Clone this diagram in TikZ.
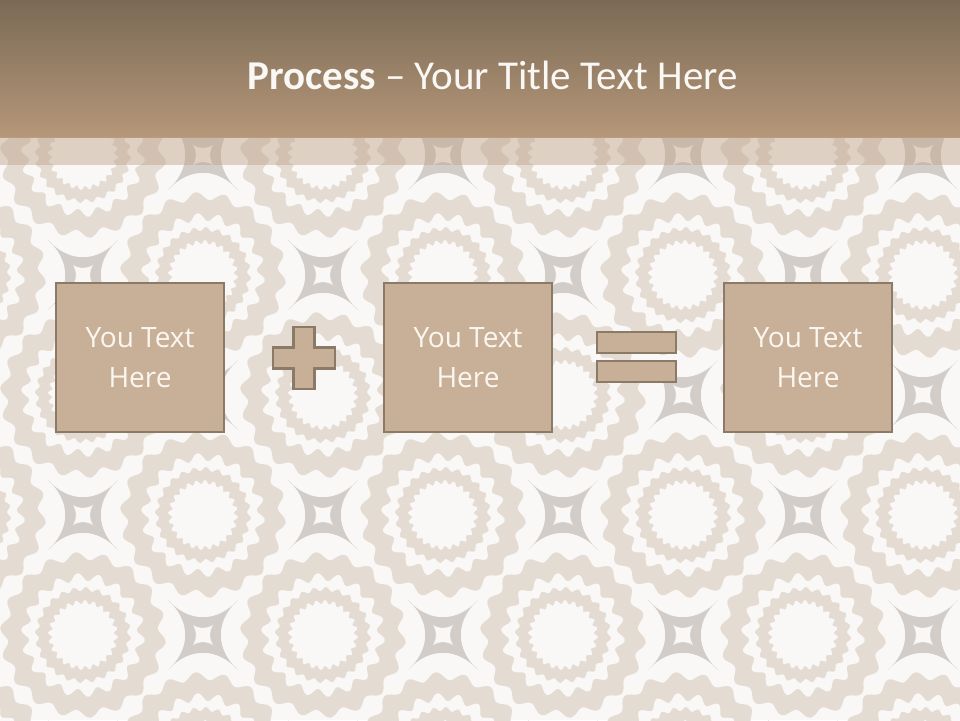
\documentclass[tikz,border=0pt]{standalone}
\usepackage{fontspec}
\newfontfamily\titlefont{Carlito}
\newfontfamily\boxfont{Open Sans}
\definecolor{bg}{RGB}{249,248,246}
\definecolor{ringtan}{RGB}{228,220,211}
\definecolor{stargray}{RGB}{210,205,201}
\definecolor{titletop}{RGB}{122,106,85}
\definecolor{titlebot}{RGB}{182,151,121}
\definecolor{bandcol}{RGB}{190,162,135}
\definecolor{boxfill}{RGB}{200,176,152}
\definecolor{boxline}{RGB}{140,122,104}
\definecolor{boxtext}{RGB}{251,247,240}
\tikzset{
  procbox/.style={draw=boxline, fill=boxfill, line width=2.2pt, minimum width=168pt,
    minimum height=149pt, inner sep=0pt, align=center, text=boxtext,
    font=\boxfont\fontsize{28}{40}\selectfont},
  opshape/.style={draw=boxline, fill=boxfill, line width=2.5pt, line join=miter},
  wave/.style={domain=0:360, samples=217},
}
\begin{document}
\begin{tikzpicture}[x=1pt,y=-1pt]
\useasboundingbox (0,0) rectangle (960,720);
\begin{scope}
\clip (0,0) rectangle (960,720);
\fill[bg] (0,0) rectangle (960,720);
\foreach \k in {0,...,9}{
  \foreach \m in {0,...,6}{
    \pgfmathtruncatemacro{\parity}{mod(\k+\m,2)}
    \begin{scope}[shift={(-37+120*\k,35+120*\m)}]
      \ifnum\parity=0
        \fill[ringtan] plot[wave] (\x:{79+4*sin(18*\x)});
        \fill[bg] plot[wave] (\x:{58+4*sin(18*\x)});
        \fill[ringtan] plot[wave] (\x:{46+2*sin(24*\x)});
        \fill[bg] plot[wave] (\x:{33+2*sin(24*\x)});
      \else
        \fill[stargray] (35,35) .. controls (12,14) and (12,-14) .. (35,-35)
          .. controls (14,-12) and (-14,-12) .. (-35,-35)
          .. controls (-12,-14) and (-12,14) .. (-35,35)
          .. controls (-14,12) and (14,12) .. (35,35) -- cycle;
        \fill[bg] (10,10) .. controls (6,3) and (6,-3) .. (10,-10)
          .. controls (3,-6) and (-3,-6) .. (-10,-10)
          .. controls (-6,-3) and (-6,3) .. (-10,10)
          .. controls (-3,6) and (3,6) .. (10,10) -- cycle;
      \fi
    \end{scope}
  }
}
\shade[top color=titletop, bottom color=titlebot] (0,0) rectangle (960,137);
\fill[bandcol, opacity=0.45] (0,137) rectangle (960,165);
\end{scope}

\node[text={rgb,255:red,250;green,248;blue,245}, font=\titlefont\fontsize{41}{50}\selectfont]
  (title) at (492.5,75) {\textbf{Process} – Your Title Text Here};

\node[procbox] (b1) at (140,357.5) {You Text\\Here};
\node[procbox] (b2) at (468,357.5) {You Text\\Here};
\node[procbox] (b3) at (808,357.5) {You Text\\Here};

\draw[opshape] (293.5,327) -- (314.5,327) -- (314.5,347.5) -- (335,347.5)
  -- (335,368.5) -- (314.5,368.5) -- (314.5,389) -- (293.5,389)
  -- (293.5,368.5) -- (273,368.5) -- (273,347.5) -- (293.5,347.5) -- cycle;
\draw[opshape] (597,332) rectangle (676,353);
\draw[opshape] (597,361) rectangle (676,382);
\end{tikzpicture}
\end{document}
